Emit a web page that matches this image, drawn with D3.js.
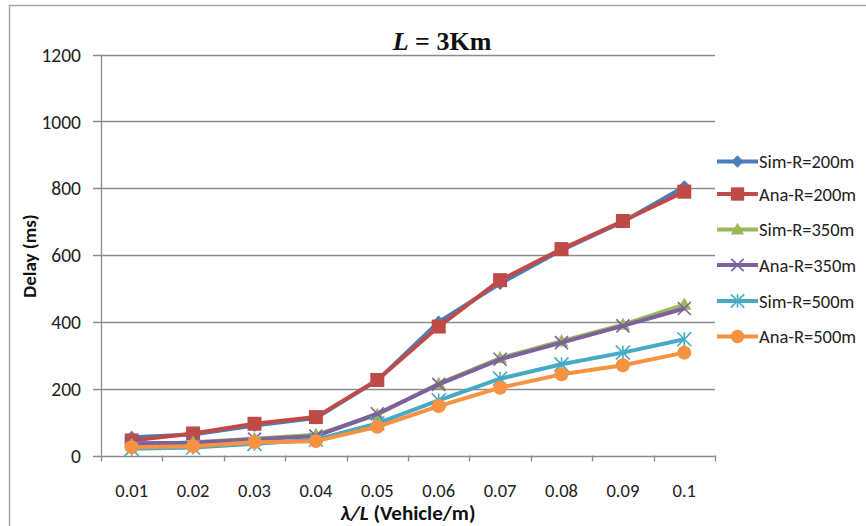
<!DOCTYPE html>
<html>
<head>
<meta charset="utf-8">
<script src="https://cdn.jsdelivr.net/npm/d3@7"></script>
<style>
  html, body { margin: 0; padding: 0; background: #fff; }
  svg { display: block; }
</style>
</head>
<body>
<svg id="chart" width="866" height="526"></svg>
<script>
// ---- data ----
const categories = ["0.01","0.02","0.03","0.04","0.05","0.06","0.07","0.08","0.09","0.1"];
const simR200 = [55, 63, 90, 112, 225, 400, 515, 615, 700, 805];
const anaR200 = [45, 66, 95, 115, 226, 386, 525, 618, 702, 790];
const simR350 = [32, 40, 50, 62, 122, 215, 292, 342, 392, 452];
const anaR350 = [37, 38, 49, 58, 125, 213, 288, 338, 388, 440];
const simR500 = [20, 24, 35, 47, 96, 165, 230, 273, 308, 348];
const anaR500 = [25, 28, 40, 43, 86, 148, 203, 243, 270, 308];
const seriesNames = ["Sim-R=200m","Ana-R=200m","Sim-R=350m","Ana-R=350m","Sim-R=500m","Ana-R=500m"];
const yTicks = [0, 200, 400, 600, 800, 1000, 1200];

const seriesValues = [simR200, anaR200, simR350, anaR350, simR500, anaR500];
const colors = ["#4A7EBB", "#BE4B48", "#98B954", "#7D60A0", "#46AAC5", "#F69240"];
const markers = ["diamond", "square", "triangle", "x", "asterisk", "circle"];

const svg = d3.select("#chart");

// outer chart border
svg.append("rect").attr("x", 9.5).attr("y", 5.5).attr("width", 880).attr("height", 540)
  .attr("fill", "none").attr("stroke", "#A6A6A6").attr("stroke-width", 1.5);

const x = d3.scaleBand().domain(categories).range([101, 715]).padding(0);
const y = d3.scaleLinear().domain([0, 1200]).range([455.5, 54.7]);
const cx = c => x(c) + x.bandwidth() / 2;

// gridlines
svg.append("g").selectAll("line").data(yTicks).join("line")
  .attr("x1", 93).attr("x2", 715)
  .attr("y1", d => Math.round(y(d)) + 0.5).attr("y2", d => Math.round(y(d)) + 0.5)
  .attr("stroke", "#8C8C8C").attr("stroke-width", 1.3);

// y axis line
svg.append("line").attr("x1", 101.5).attr("x2", 101.5)
  .attr("y1", y(1200)).attr("y2", y(0))
  .attr("stroke", "#8C8C8C").attr("stroke-width", 1.3);

// x tick marks at category boundaries
const edges = categories.map(c => x(c)).concat([x.range()[1]]);
svg.append("g").selectAll("line").data(edges).join("line")
  .attr("x1", d => Math.round(d) + 0.5).attr("x2", d => Math.round(d) + 0.5)
  .attr("y1", y(0)).attr("y2", y(0) + 6)
  .attr("stroke", "#8C8C8C").attr("stroke-width", 1.3);

const font = "Carlito, Calibri, Lato, 'Open Sans', sans-serif";

// y tick labels
svg.append("g").selectAll("text").data(yTicks).join("text")
  .attr("x", 81).attr("y", d => y(d)).attr("dy", "0.36em")
  .attr("text-anchor", "end").attr("font-family", font).attr("font-size", 19.5)
  .attr("fill", "#222").text(d => d);

// x tick labels
svg.append("g").selectAll("text").data(categories).join("text")
  .attr("x", d => cx(d)).attr("y", 497)
  .attr("text-anchor", "middle").attr("font-family", font).attr("font-size", 18.5)
  .attr("fill", "#222").text(d => d);

// axis titles
svg.append("text").attr("transform", "translate(36,256) rotate(-90)")
  .attr("text-anchor", "middle").attr("font-family", font).attr("font-size", 19)
  .attr("font-weight", "bold").attr("fill", "#111").text("Delay (ms)");

const xt = svg.append("text").attr("x", 408).attr("y", 520)
  .attr("text-anchor", "middle").attr("font-family", font).attr("font-size", 21)
  .attr("font-weight", "bold").attr("fill", "#111");
xt.append("tspan").attr("font-style", "italic").text("λ/L");
xt.append("tspan").text(" (Vehicle/m)");

// title
const tt = svg.append("text").attr("x", 442).attr("y", 50)
  .attr("text-anchor", "middle").attr("font-family", "'Liberation Serif', 'Times New Roman', serif")
  .attr("font-size", 26).attr("font-weight", "bold").attr("fill", "#111");
tt.append("tspan").attr("font-style", "italic").text("L");
tt.append("tspan").text(" = 3Km");

// marker drawing
function drawMarker(g, type, color, px, py, scale) {
  const s = scale || 1;
  if (type === "diamond") {
    const r = 6.5 * s;
    g.append("path").attr("d", `M${px},${py - r}L${px + r},${py}L${px},${py + r}L${px - r},${py}Z`).attr("fill", color);
  } else if (type === "square") {
    const r = 7 * s;
    g.append("rect").attr("x", px - r).attr("y", py - r).attr("width", 2 * r).attr("height", 2 * r).attr("fill", color);
  } else if (type === "triangle") {
    const r = 7 * s;
    g.append("path").attr("d", `M${px},${py - r}L${px + r},${py + r * 0.75}L${px - r},${py + r * 0.75}Z`).attr("fill", color);
  } else if (type === "x") {
    const r = 6.5 * s;
    g.append("path").attr("d", `M${px - r},${py - r}L${px + r},${py + r}M${px - r},${py + r}L${px + r},${py - r}`)
      .attr("stroke", color).attr("stroke-width", 1.6).attr("fill", "none");
  } else if (type === "asterisk") {
    const r = 7 * s;
    g.append("path").attr("d", `M${px - r},${py - r}L${px + r},${py + r}M${px - r},${py + r}L${px + r},${py - r}M${px},${py - r}L${px},${py + r}`)
      .attr("stroke", color).attr("stroke-width", 1.6).attr("fill", "none");
  } else if (type === "circle") {
    g.append("circle").attr("cx", px).attr("cy", py).attr("r", 7 * s).attr("fill", color);
  }
}

const line = d3.line().x(d => cx(d.c)).y(d => y(d.v));

seriesValues.forEach((vals, i) => {
  const pts = categories.map((c, j) => ({ c, v: vals[j] }));
  const g = svg.append("g");
  g.append("path").datum(pts).attr("d", line)
    .attr("fill", "none").attr("stroke", colors[i]).attr("stroke-width", 4)
    .attr("stroke-linejoin", "round");
  pts.forEach(p => drawMarker(g, markers[i], colors[i], cx(p.c), y(p.v)));
});

// legend
const legY = [161.5, 194, 229.5, 265, 301, 336.5];
const leg = svg.append("g");
seriesNames.forEach((name, i) => {
  const ly = legY[i];
  leg.append("line").attr("x1", 717).attr("x2", 758).attr("y1", ly).attr("y2", ly)
    .attr("stroke", colors[i]).attr("stroke-width", 4);
  drawMarker(leg, markers[i], colors[i], 737.5, ly, 0.95);
  leg.append("text").attr("x", 759).attr("y", ly).attr("dy", "0.36em")
    .attr("font-family", font).attr("font-size", 18.5).attr("fill", "#222").text(name);
});
</script>
</body>
</html>
